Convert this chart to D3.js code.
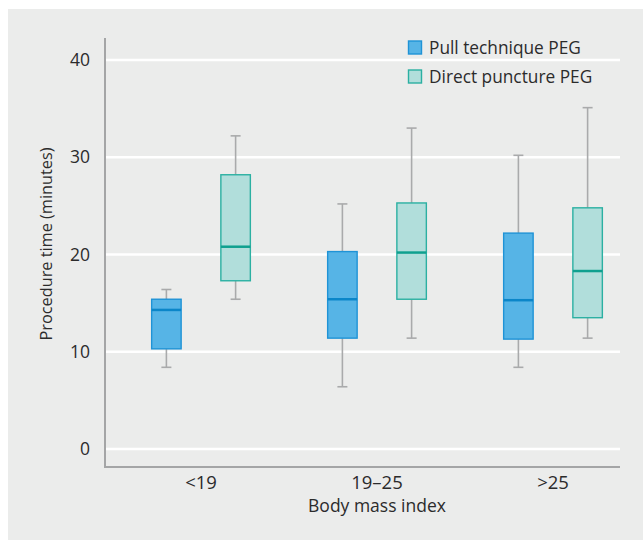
<!DOCTYPE html>
<html><head><meta charset="utf-8">
<script src="https://cdn.jsdelivr.net/npm/d3@7"></script>
<style>body{margin:0;background:#fff}svg{display:block}text{font-family:"Open Sans","Noto Sans",sans-serif;fill:#2b2b2b}</style>
</head><body><svg id="c" width="643" height="540"></svg>
<script>
const categories = ["<19", "19\u201325", ">25"];
const seriesNames = ["Pull technique PEG", "Direct puncture PEG"];
// [whiskerLow, q1, median, q3, whiskerHigh]
const pullValues = [[8.4, 10.3, 14.3, 15.4, 16.4], [6.4, 11.4, 15.4, 20.3, 25.2], [8.4, 11.3, 15.3, 22.2, 30.2]];
const directValues = [[15.4, 17.3, 20.8, 28.2, 32.2], [11.4, 15.4, 20.2, 25.3, 33.0], [11.4, 13.5, 18.3, 24.8, 35.1]];
const yTicks = [0, 10, 20, 30, 40];

const svg = d3.select("#c");
svg.append("rect").attr("x", 8).attr("y", 9).attr("width", 635).attr("height", 531).attr("fill", "#ebeceb");

const y = d3.scaleLinear().domain([0, 40]).range([449, 60]);
const x = d3.scaleBand().domain(categories).range([113, 641]);
const xs = d3.scaleBand().domain(seriesNames).range([-49.35, 49.35]).paddingInner(0.574).paddingOuter(0);

// gridlines
svg.append("g").selectAll("line").data(yTicks).join("line")
  .attr("x1", 106).attr("x2", 620).attr("y1", d => y(d)).attr("y2", d => y(d))
  .attr("stroke", "#fff").attr("stroke-width", 2.5);

// axes
const yAxis = svg.append("g").attr("transform", "translate(105,0)")
  .call(d3.axisLeft(y).tickValues(yTicks).tickSize(0).tickPadding(15));
yAxis.select(".domain").remove();
yAxis.selectAll("text").attr("font-size", 17.5).attr("fill", "#2b2b2b").attr("font-family", "'Open Sans'");
svg.append("line").attr("x1", 105).attr("x2", 105).attr("y1", 38).attr("y2", 468).attr("stroke", "#a4a5a6").attr("stroke-width", 2);
svg.append("line").attr("x1", 104).attr("x2", 620).attr("y1", 467).attr("y2", 467).attr("stroke", "#a4a5a6").attr("stroke-width", 2);

const xAxis = svg.append("g").attr("transform", "translate(0,467)")
  .call(d3.axisBottom(x).tickSize(0).tickPadding(9));
xAxis.select(".domain").remove();
xAxis.selectAll("text").attr("font-size", 18.5).attr("fill", "#2b2b2b").attr("font-family", "'Open Sans'");

svg.append("text").attr("x", 377).attr("y", 512).attr("text-anchor", "middle").attr("font-size", 17.5).text("Body mass index");
svg.append("text").attr("transform", "translate(52,244) rotate(-90)").attr("text-anchor", "middle").attr("font-size", 16.3).text("Procedure time (minutes)");

const styles = [
  {fill: "#56b4e6", stroke: "#1f93d6", median: "#0b86c9"},
  {fill: "#b1dedb", stroke: "#2bb0a2", median: "#0fa08f"}
];
const all = [pullValues, directValues];
const bw = xs.bandwidth();
all.forEach((vals, si) => {
  const st = styles[si];
  const g = svg.append("g");
  vals.forEach((v, ci) => {
    const x0 = x(categories[ci]) + x.bandwidth() / 2 + xs(seriesNames[si]);
    const cx = x0 + bw / 2;
    const [lo, q1, med, q3, hi] = v;
    g.append("line").attr("x1", cx).attr("x2", cx).attr("y1", y(hi)).attr("y2", y(q3)).attr("stroke", "#a9aaab").attr("stroke-width", 1.6);
    g.append("line").attr("x1", cx).attr("x2", cx).attr("y1", y(q1)).attr("y2", y(lo)).attr("stroke", "#a9aaab").attr("stroke-width", 1.6);
    g.append("line").attr("x1", cx - 5).attr("x2", cx + 5).attr("y1", y(hi)).attr("y2", y(hi)).attr("stroke", "#a9aaab").attr("stroke-width", 1.6);
    g.append("line").attr("x1", cx - 5).attr("x2", cx + 5).attr("y1", y(lo)).attr("y2", y(lo)).attr("stroke", "#a9aaab").attr("stroke-width", 1.6);
    g.append("rect").attr("x", x0).attr("y", y(q3)).attr("width", bw).attr("height", y(q1) - y(q3))
      .attr("fill", st.fill).attr("stroke", st.stroke).attr("stroke-width", 1.4);
    g.append("line").attr("x1", x0).attr("x2", x0 + bw).attr("y1", y(med)).attr("y2", y(med)).attr("stroke", st.median).attr("stroke-width", 2.5);
  });
});

// legend
const leg = svg.append("g");
seriesNames.forEach((n, i) => {
  const ly = 48 + i * 29;
  leg.append("rect").attr("x", 408.5).attr("y", ly - 7).attr("width", 13).attr("height", 13)
    .attr("fill", styles[i].fill).attr("stroke", styles[i].stroke).attr("stroke-width", 1.4);
  leg.append("text").attr("x", 429).attr("y", ly).attr("dy", "0.35em").attr("font-size", 17.3).text(n);
});
</script></body></html>
